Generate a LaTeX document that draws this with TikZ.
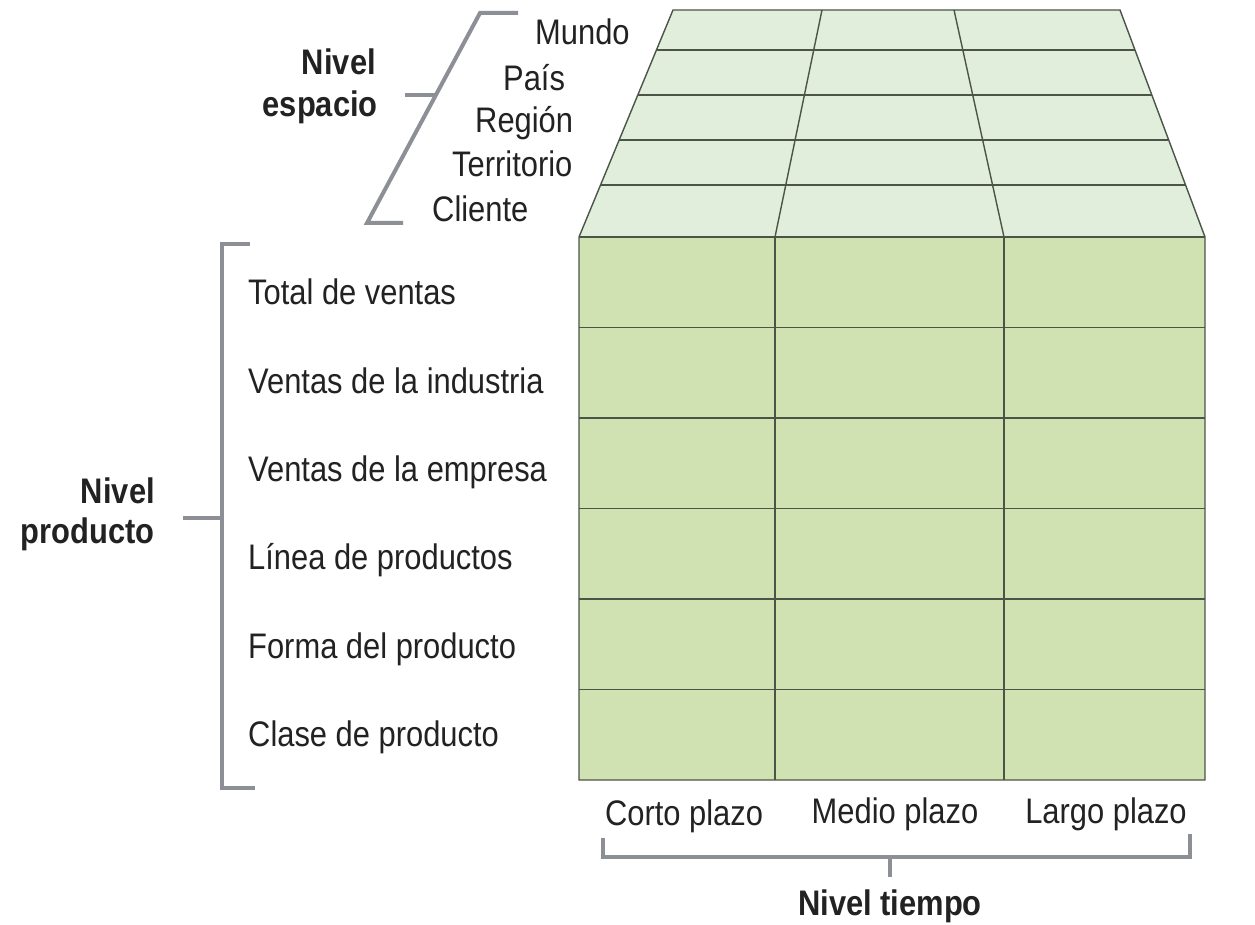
\documentclass[tikz,border=0pt]{standalone}
\usepackage{fontspec}
\setmainfont{Liberation Sans}[FakeStretch=0.87]
\usetikzlibrary{calc}
\definecolor{topgreen}{HTML}{E0EEDB}
\definecolor{frontgreen}{HTML}{D0E2B1}
\definecolor{edge}{HTML}{4A5548}
\definecolor{brk}{HTML}{8D8F96}
\definecolor{txt}{HTML}{222222}
\begin{document}
\begin{tikzpicture}[x=1pt,y=-1pt,
  lbl/.style={font=\fontsize{35.5}{42}\selectfont, text=txt, inner sep=0pt},
  blbl/.style={font=\fontsize{35.5}{42}\selectfont\bfseries, text=txt, inner sep=0pt},
  brk/.style={draw=brk, line width=4pt},
  gridline/.style={draw=edge, line width=1.4pt}]
\useasboundingbox[fill=white] (0,0) rectangle (1255,925);
% cube corners
\coordinate (BL) at (673,10);
\coordinate (BR) at (1120,10);
\coordinate (FL) at (579,237);
\coordinate (FR) at (1205,237);
\coordinate (DL) at (579,780);
\coordinate (DR) at (1205,780);
% faces
\fill[topgreen] (BL) -- (BR) -- (FR) -- (FL) -- cycle;
\fill[frontgreen] (FL) -- (FR) -- (DR) -- (DL) -- cycle;
% top face grid
\foreach \t in {0.176,0.374,0.573,0.771}
  \draw[gridline] ($(BL)!\t!(FL)$) -- ($(BR)!\t!(FR)$);
\draw[gridline] (822,10) -- (775,237);
\draw[gridline] (954,10) -- (1004,237);
% front grid
\foreach \i in {1,...,5}
  \draw[gridline] (579,237+90.5*\i) -- (1205,237+90.5*\i);
\draw[gridline] (775,237) -- (775,780);
\draw[gridline] (1004,237) -- (1004,780);
\draw[gridline] (BL) -- (BR) -- (FR) -- (DR) -- (DL) -- (FL) -- cycle;
\draw[gridline] (FL) -- (FR);
% space labels
\node[lbl, anchor=base west] (mundo) at (535,45) {Mundo};
\node[lbl, anchor=base west] (pais) at (503,91) {País};
\node[lbl, anchor=base west] (region) at (475,133) {Región};
\node[lbl, anchor=base west] (terr) at (452,177) {Territorio};
\node[lbl, anchor=base west] (cliente) at (432,222) {Cliente};
\node[blbl, anchor=base east] (nivel1) at (376,75) {Nivel};
\node[blbl, anchor=base east] (espacio) at (378,117) {espacio};
\draw[brk] (518,13) -- (480,13) -- (367,223) -- (403,223);
\draw[brk] (405,95) -- (436,95);
% product labels
\node[lbl, anchor=base west] (p1) at (248,305) {Total de ventas};
\node[lbl, anchor=base west] (p2) at (248,393) {Ventas de la industria};
\node[lbl, anchor=base west] (p3) at (248,481) {Ventas de la empresa};
\node[lbl, anchor=base west] (p4) at (248,569) {Línea de productos};
\node[lbl, anchor=base west] (p5) at (248,658) {Forma del producto};
\node[lbl, anchor=base west] (p6) at (248,746) {Clase de producto};
\node[blbl, anchor=base east] (nivel2) at (155,503) {Nivel};
\node[blbl, anchor=base east] (producto) at (155,543) {producto};
\draw[brk] (250,244) -- (222,244) -- (222,788) -- (255,788);
\draw[brk] (183,518) -- (222,518);
% time labels
\node[lbl, anchor=base] (corto) at (684,825) {Corto plazo};
\node[lbl, anchor=base] (medio) at (895,823) {Medio plazo};
\node[lbl, anchor=base] (largo) at (1106,823) {Largo plazo};
\node[blbl, anchor=base] (tiempo) at (890,915) {Nivel tiempo};
\draw[brk] (603,838) -- (603,857) -- (1190,857) -- (1190,834);
\draw[brk] (890,857) -- (890,877);
\end{tikzpicture}
\end{document}
